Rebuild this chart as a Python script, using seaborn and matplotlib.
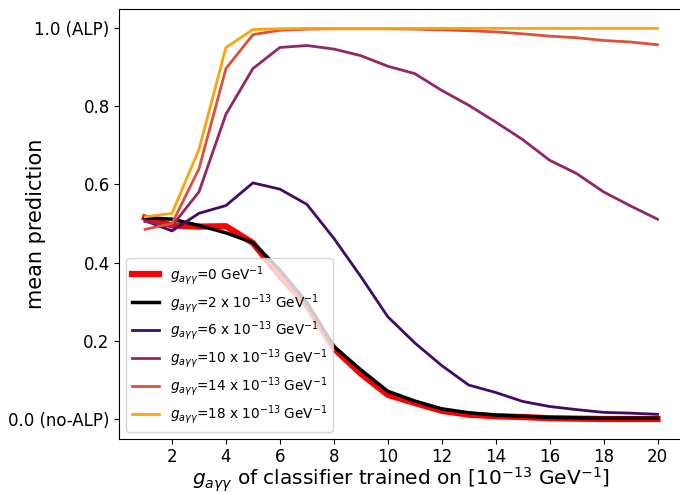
import numpy as np
import pandas as pd
import seaborn as sns
import matplotlib
matplotlib.use("Agg")
import matplotlib.pyplot as plt

# classifier trained on g (1e-13 GeV^-1)
g_train = list(range(1, 21))

pred_g0 = [0.515, 0.495, 0.492, 0.493, 0.450, 0.365, 0.290, 0.180, 0.115, 0.061,
           0.040, 0.020, 0.010, 0.006, 0.004, 0.001, 0.000, -0.001, -0.001, -0.001]
pred_g2 = [0.515, 0.511, 0.495, 0.476, 0.451, 0.381, 0.297, 0.185, 0.125, 0.070,
           0.045, 0.025, 0.015, 0.009, 0.006, 0.003, 0.002, 0.001, 0.001, 0.001]
pred_g6 = [0.507, 0.481, 0.526, 0.546, 0.604, 0.588, 0.549, 0.462, 0.364, 0.261,
           0.194, 0.136, 0.086, 0.067, 0.044, 0.031, 0.023, 0.016, 0.014, 0.011]
pred_g10 = [0.505, 0.494, 0.581, 0.780, 0.897, 0.951, 0.956, 0.947, 0.930, 0.903,
            0.884, 0.841, 0.803, 0.760, 0.715, 0.662, 0.628, 0.581, 0.545, 0.511]
pred_g14 = [0.485, 0.500, 0.640, 0.897, 0.984, 0.995, 0.998, 0.999, 0.999, 0.999,
            0.998, 0.996, 0.994, 0.991, 0.986, 0.980, 0.976, 0.969, 0.965, 0.958]
pred_g18 = [0.517, 0.526, 0.690, 0.951, 0.997, 0.999, 1.000, 1.000, 1.000, 1.000,
            1.000, 1.000, 1.000, 1.000, 1.000, 1.000, 1.000, 1.000, 1.000, 1.000]

labels = [r'$g_{a\gamma\gamma}$=0 GeV$^{-1}$',
          r'$g_{a\gamma\gamma}$=2 x 10$^{-13}$ GeV$^{-1}$',
          r'$g_{a\gamma\gamma}$=6 x 10$^{-13}$ GeV$^{-1}$',
          r'$g_{a\gamma\gamma}$=10 x 10$^{-13}$ GeV$^{-1}$',
          r'$g_{a\gamma\gamma}$=14 x 10$^{-13}$ GeV$^{-1}$',
          r'$g_{a\gamma\gamma}$=18 x 10$^{-13}$ GeV$^{-1}$']

ytick_vals = [0.0, 0.2, 0.4, 0.6, 0.8, 1.0]
ytick_labels = ['0.0 (no-ALP)', '0.2', '0.4', '0.6', '0.8', '1.0 (ALP)']

inferno = sns.color_palette("inferno", 4)
colors = ['red', 'black'] + list(inferno)
widths = [4.5, 2.5, 2, 2, 2, 2]

fig = plt.figure(figsize=(6.8, 4.93), dpi=100)
ax = fig.add_axes([0.1756, 0.1105, 0.829, 0.8716])

series = [pred_g0, pred_g2, pred_g6, pred_g10, pred_g14, pred_g18]
for vals, lab, c, lw in zip(series, labels, colors, widths):
    sns.lineplot(x=g_train, y=vals, ax=ax, color=c, linewidth=lw, label=lab)

ax.set_xticks(range(2, 21, 2))
ax.set_yticks(ytick_vals)
ax.set_yticklabels(ytick_labels)
ax.tick_params(labelsize=12)
ax.set_xlabel(r'$g_{a\gamma\gamma}$ of classifier trained on [10$^{-13}$ GeV$^{-1}$]', fontsize=14.5)
ax.set_ylabel('mean prediction', fontsize=15)
ax.xaxis.set_label_coords(0.5, -0.064)
ax.yaxis.set_label_coords(-0.13, 0.5)
ax.legend(loc='lower left', fontsize=9.8, labelspacing=0.37)

fig.savefig("out.png", dpi=100)
